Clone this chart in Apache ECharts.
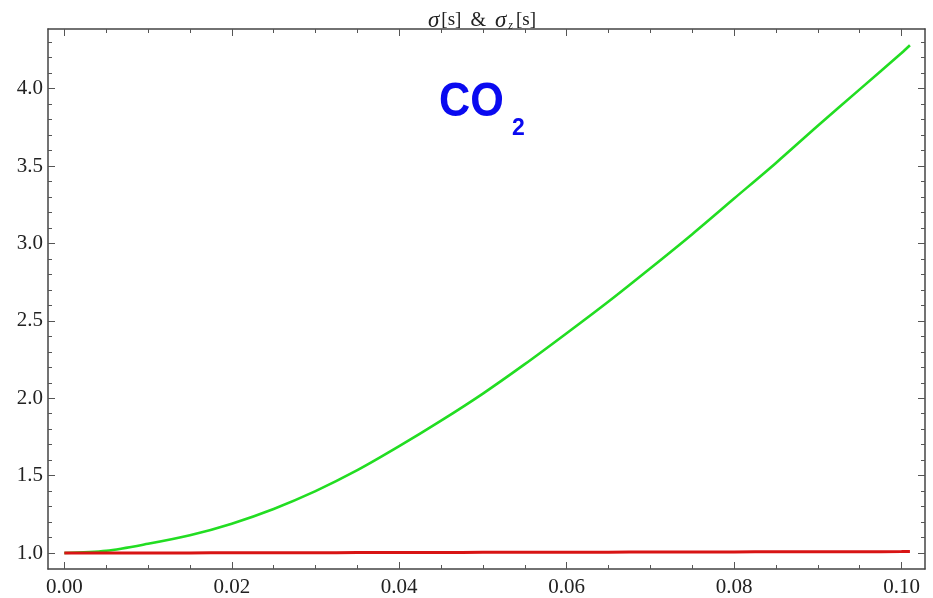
<!DOCTYPE html>
<html>
<head>
<meta charset="utf-8">
<script src="https://cdn.jsdelivr.net/npm/echarts@6/dist/echarts.min.js"></script>
<style>
  html, body { margin: 0; padding: 0; background: #fff; }
  #chart { width: 933px; height: 598px; }
</style>
</head>
<body>
<div id="chart"></div>
<script>
// s values (position along the path)
const sValues = [0, 0.005, 0.01, 0.015, 0.02, 0.025, 0.03, 0.035, 0.04, 0.045,
                 0.05, 0.055, 0.06, 0.065, 0.07, 0.075, 0.08, 0.085, 0.09, 0.095, 0.1, 0.101];
// sigma[s] (green)
const sigma = [1.0, 1.015, 1.06, 1.115, 1.19, 1.285, 1.40, 1.535, 1.69, 1.855,
               2.03, 2.22, 2.42, 2.625, 2.84, 3.06, 3.29, 3.52, 3.76, 3.995, 4.23, 4.28];
// sigma_z[s] (red)
const sigmaZ = [1.0, 1.0, 1.0005, 1.001, 1.0015, 1.002, 1.0025, 1.003, 1.0035, 1.004,
                1.0045, 1.005, 1.0055, 1.006, 1.0065, 1.007, 1.0075, 1.008, 1.0085, 1.009, 1.0095, 1.01];

// tick positions
const xMajorTicks = [0, 0.02, 0.04, 0.06, 0.08, 0.10];
const xMinorTicks = [0.005, 0.01, 0.015, 0.025, 0.03, 0.035, 0.045, 0.05, 0.055,
                     0.065, 0.07, 0.075, 0.085, 0.09, 0.095];
const yMajorTicks = [1.0, 1.5, 2.0, 2.5, 3.0, 3.5, 4.0];
const yMinorTicks = [1.1, 1.2, 1.3, 1.4, 1.6, 1.7, 1.8, 1.9, 2.1, 2.2, 2.3, 2.4,
                     2.6, 2.7, 2.8, 2.9, 3.1, 3.2, 3.3, 3.4, 3.6, 3.7, 3.8, 3.9,
                     4.1, 4.2, 4.3];

const X_MIN = -0.00195, X_MAX = 0.1028;
const Y_MIN = 0.897, Y_MAX = 4.385;

const frameColor = '#444';
const labelFont = { fontFamily: 'Liberation Serif', fontSize: 21, color: '#222' };

function xAxisDef(position, ticks, len, withLabels, showLine) {
  return {
    type: 'value', position: position, min: X_MIN, max: X_MAX,
    splitLine: { show: false },
    axisLine: { show: showLine, onZero: false, lineStyle: { color: frameColor, width: 1.5 } },
    axisTick: { show: true, inside: true, length: len, customValues: ticks,
                lineStyle: { color: '#555', width: 1 } },
    axisLabel: withLabels
      ? Object.assign({ show: true, customValues: ticks, margin: 8,
          formatter: v => v.toFixed(2) }, labelFont)
      : { show: false }
  };
}
function yAxisDef(position, ticks, len, withLabels, showLine) {
  return {
    type: 'value', position: position, min: Y_MIN, max: Y_MAX,
    splitLine: { show: false },
    axisLine: { show: showLine, onZero: false, lineStyle: { color: frameColor, width: 1.5 } },
    axisTick: { show: true, inside: true, length: len, customValues: ticks,
                lineStyle: { color: '#555', width: 1 } },
    axisLabel: withLabels
      ? Object.assign({ show: true, customValues: ticks, margin: 5,
          formatter: v => v.toFixed(1) }, labelFont)
      : { show: false }
  };
}

const chart = echarts.init(document.getElementById('chart'), null, { renderer: 'canvas' });
chart.setOption({
  animation: false,
  backgroundColor: '#fff',
  title: {
    text: '{g|σ}{b|[s]}{a| & }{g|σ}{sub|z}{b|[s]}',
    left: 477, top: 4, textAlign: 'center',
    textStyle: {
      fontFamily: 'Liberation Serif', fontSize: 19, fontWeight: 'normal', color: '#222',
      rich: {
        g: { fontFamily: 'Liberation Serif', fontStyle: 'italic', fontSize: 23, color: '#222',
             padding: [0, 2, 0, 0] },
        b: { fontFamily: 'Liberation Serif', fontSize: 19, color: '#222' },
        a: { fontFamily: 'Liberation Serif', fontSize: 20, color: '#222', padding: [0, 4, 0, 4] },
        sub: { fontFamily: 'Liberation Serif', fontStyle: 'italic', fontSize: 12, color: '#222',
               padding: [10, 3, 0, 0] }
      }
    }
  },
  grid: { left: 48, top: 29, right: 8, bottom: 28, containLabel: false },
  xAxis: [
    xAxisDef('bottom', xMajorTicks, 7, true, true),
    xAxisDef('bottom', xMinorTicks, 4, false, false),
    xAxisDef('top', xMajorTicks, 7, false, true),
    xAxisDef('top', xMinorTicks, 4, false, false)
  ],
  yAxis: [
    yAxisDef('left', yMajorTicks, 7, true, true),
    yAxisDef('left', yMinorTicks, 4, false, false),
    yAxisDef('right', yMajorTicks, 7, false, true),
    yAxisDef('right', yMinorTicks, 4, false, false)
  ],
  series: [
    {
      name: 'σ[s]', type: 'line', xAxisIndex: 0, yAxisIndex: 0,
      data: sValues.map((s, i) => [s, sigma[i]]),
      smooth: 0.3, showSymbol: false,
      lineStyle: { color: '#22dd22', width: 2.6 }
    },
    {
      name: 'σz[s]', type: 'line', xAxisIndex: 0, yAxisIndex: 0,
      data: sValues.map((s, i) => [s, sigmaZ[i]]),
      smooth: true, showSymbol: false,
      lineStyle: { color: '#d81414', width: 3 }
    }
  ],
  graphic: [
    { type: 'text', x: 439, y: 79, scaleX: 0.9, scaleY: 1,
      style: { text: 'CO', font: 'bold 48px "Liberation Sans", Arial, sans-serif', fill: '#0a0af0' } },
    { type: 'text', x: 512, y: 117,
      style: { text: '2', font: 'bold 23px "Liberation Sans", Arial, sans-serif', fill: '#0a0af0' } }
  ]
});
</script>
</body>
</html>
